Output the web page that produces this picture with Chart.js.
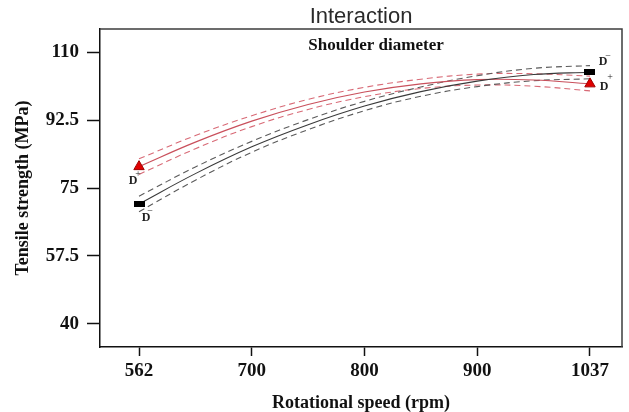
<!DOCTYPE html>
<html>
<head>
<meta charset="utf-8">
<script src="https://cdn.jsdelivr.net/npm/chart.js@4.4.0/dist/chart.umd.min.js"></script>
<style>
    html, body { margin: 0; padding: 0; background: #fff; }
    #wrap { width: 629px; height: 412px; }
</style>
</head>
<body>
<div id="wrap"><canvas id="interactionChart"></canvas></div>
<script>
// coded rotational speed: -1 = 562 rpm, +1 = 1037 rpm
var speedLevels = [-1, -0.75, -0.5, -0.25, 0, 0.25, 0.5, 0.75, 1];
var speedTicks = [-1, -0.5, 0, 0.5, 1];
var speedLabels = ["562", "700", "800", "900", "1037"];
var strengthTicks = [40, 57.5, 75, 92.5, 110];

// D- shoulder: fitted tensile strength and its band
var dMinusFit   = [70.9, 78.7, 85.6, 91.3, 96.1, 99.8, 102.5, 104.2, 104.8];
var dMinusUpper = [72.9, 80.4, 87.0, 92.6, 97.3, 101.0, 103.9, 105.8, 106.5];
var dMinusLower = [68.9, 77.0, 84.2, 90.0, 94.9, 98.6, 101.1, 102.6, 103.1];

// D+ shoulder
var dPlusFit   = [80.5, 86.8, 92.2, 96.5, 99.7, 101.8, 102.9, 102.8, 101.8];
var dPlusUpper = [82.5, 88.5, 93.6, 97.8, 100.9, 103.0, 104.3, 104.4, 103.8];
var dPlusLower = [78.5, 85.1, 90.8, 95.2, 98.5, 100.6, 101.5, 101.2, 100.0];

var serif = "'Liberation Serif', 'Times New Roman', serif";

function toPoints(values) {
    return values.map(function (v, i) {
        return { x: speedLevels[i], y: v };
    });
}

// markers only at the two speed levels that were run
function endRadius(r) {
    return function (ctx) {
        var last = speedLevels.length - 1;
        return (ctx.dataIndex === 0 || ctx.dataIndex === last) ? r : 0;
    };
}

// flat black bar used as the D- marker
var barMarker = document.createElement("canvas");
barMarker.width = 11;
barMarker.height = 6;
var bctx = barMarker.getContext("2d");
bctx.fillStyle = "#000";
bctx.fillRect(0, 0, 11, 6);

function bandLine(values, color) {
    return {
        data: toPoints(values),
        borderColor: color,
        borderWidth: 1.1,
        borderDash: [6, 4],
        pointRadius: 0,
        tension: 0.4,
        fill: false
    };
}

var framePlugin = {
    id: "frame",
    beforeDatasetsDraw: function (chart) {
        var a = chart.chartArea, c = chart.ctx;
        c.save();
        c.strokeStyle = "#3c3c3c";
        c.lineWidth = 1.5;
        c.beginPath();
        c.moveTo(a.left, a.top);
        c.lineTo(a.right, a.top);
        c.lineTo(a.right, a.bottom);
        c.stroke();
        c.restore();
    }
};

function drawD(c, x, y, sign, sx, sy) {
    c.font = "bold 12px " + serif;
    c.fillText("D", x, y);
    c.font = "10px " + serif;
    c.fillText(sign, x + sx, y + sy);
}

var labelPlugin = {
    id: "labels",
    afterDatasetsDraw: function (chart) {
        var a = chart.chartArea, c = chart.ctx;
        var xs = chart.scales.x, ys = chart.scales.y;
        var last = speedLevels.length - 1;
        var xl = xs.getPixelForValue(speedLevels[0]);
        var xr = xs.getPixelForValue(speedLevels[last]);

        c.save();
        c.fillStyle = "#111";
        c.textAlign = "center";
        c.textBaseline = "middle";
        c.font = "bold 17px " + serif;
        c.fillText("Shoulder diameter", (a.left + a.right) / 2 + 15, a.top + 17);

        c.fillStyle = "#222";
        drawD(c, xl + 7, ys.getPixelForValue(dMinusFit[0]) + 14, "\u2212", 4, -7);
        drawD(c, xl - 6, ys.getPixelForValue(dPlusFit[0]) + 14, "+", 5, -6);
        drawD(c, xr + 13, ys.getPixelForValue(dMinusFit[last]) - 10, "\u2212", 5, -6);
        drawD(c, xr + 14, ys.getPixelForValue(dPlusFit[last]) + 3, "+", 6, -9);
        c.restore();
    }
};

new Chart(document.getElementById("interactionChart"), {
    type: "line",
    data: {
        datasets: [
            {
                label: "D-",
                data: toPoints(dMinusFit),
                borderColor: "#3a3a3a",
                borderWidth: 1.1,
                tension: 0.4,
                fill: false,
                pointStyle: barMarker,
                pointRadius: endRadius(5)
            },
            {
                label: "D+",
                data: toPoints(dPlusFit),
                borderColor: "#c9505c",
                borderWidth: 1.2,
                tension: 0.4,
                fill: false,
                pointStyle: "triangle",
                pointRadius: endRadius(6),
                pointBackgroundColor: "#e00000",
                pointBorderColor: "#a00000",
                pointBorderWidth: 1
            },
            bandLine(dMinusUpper, "#5a5a5a"),
            bandLine(dMinusLower, "#5a5a5a"),
            bandLine(dPlusUpper, "#d86a76"),
            bandLine(dPlusLower, "#d86a76")
        ]
    },
    options: {
        responsive: true,
        maintainAspectRatio: false,
        animation: false,
        events: [],
        layout: { padding: { top: 0, right: 7, bottom: 0, left: 0 } },
        plugins: {
            legend: { display: false },
            tooltip: { enabled: false },
            title: {
                display: true,
                fullSize: false,
                text: "Interaction",
                color: "#2a2a2a",
                font: { family: "'Liberation Sans', Arial, sans-serif", size: 22, weight: "normal", lineHeight: 1 },
                padding: { top: 6, bottom: 1 }
            }
        },
        scales: {
            x: {
                type: "linear",
                min: -1.173,
                max: 1.142,
                afterFit: function (scale) { scale.height = 65; },
                afterBuildTicks: function (scale) {
                    scale.ticks = speedTicks.map(function (v) { return { value: v }; });
                },
                grid: { drawOnChartArea: false, tickLength: 9, tickColor: "#111", tickWidth: 1.5 },
                border: { color: "#111", width: 1.5 },
                ticks: {
                    color: "#111",
                    padding: 4,
                    maxRotation: 0,
                    font: { family: serif, size: 19, weight: "bold" },
                    callback: function (value, index) { return speedLabels[index]; }
                },
                title: {
                    display: true,
                    text: "Rotational speed (rpm)",
                    color: "#111",
                    font: { family: serif, size: 18, weight: "bold", lineHeight: 1 },
                    padding: { top: 0, bottom: 0 }
                }
            },
            y: {
                min: 34.08,
                max: 115.92,
                afterFit: function (scale) { scale.width = 100; },
                afterBuildTicks: function (scale) {
                    scale.ticks = strengthTicks.map(function (v) { return { value: v }; });
                },
                grid: { drawOnChartArea: false, tickLength: 13, tickColor: "#111", tickWidth: 1.5 },
                border: { color: "#111", width: 1.5 },
                ticks: {
                    color: "#111",
                    padding: 8,
                    font: { family: serif, size: 19, weight: "bold" },
                    callback: function (value) { return String(value); }
                },
                title: {
                    display: true,
                    text: "Tensile strength (MPa)",
                    color: "#111",
                    font: { family: serif, size: 18, weight: "bold", lineHeight: 1.2 },
                    padding: { top: 13, bottom: 0 }
                }
            }
        }
    },
    plugins: [framePlugin, labelPlugin]
});
</script>
</body>
</html>
